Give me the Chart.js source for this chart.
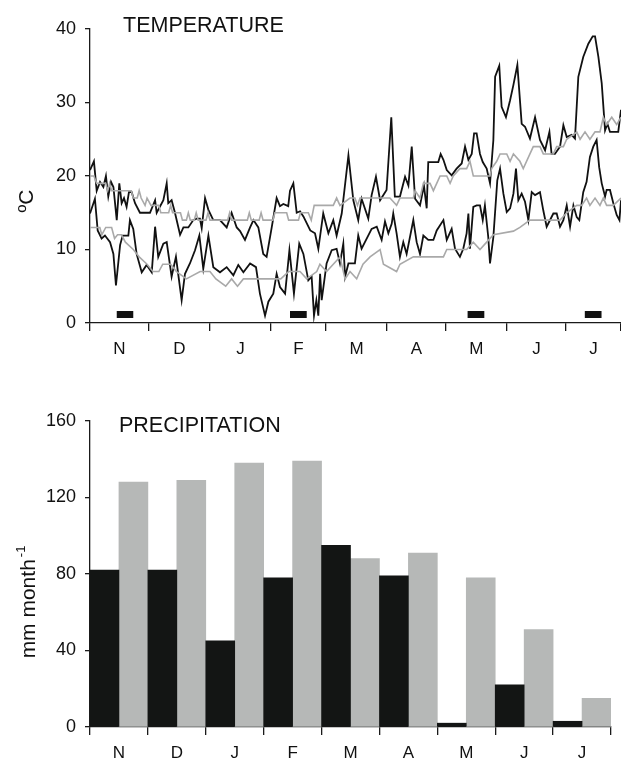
<!DOCTYPE html>
<html>
<head>
<meta charset="utf-8">
<script src="https://cdn.jsdelivr.net/npm/chart.js@4.4.1/dist/chart.umd.min.js"></script>
<style>
html,body{margin:0;padding:0;background:#fff;}
#top{position:absolute;left:0;top:0;width:621px;height:371px;}
#bot{position:absolute;left:0;top:380px;width:621px;height:383px;}
</style>
</head>
<body>
<div id="top"><canvas id="c1"></canvas></div>
<div id="bot"><canvas id="c2"></canvas></div>
<script>
// ---------- DATA ----------
const monthLabels = ['N','D','J','F','M','A','M','J','J'];
const monthStartDays = [0,30,61,92,120,151,181,212,242,270];   // day index from 1 Nov
const monthMidDays = [15,45.5,76.5,106,135.5,166,196.5,227,256];

// daily maximum temperature of the study year [day, °C]
const tmaxObs = [[0,20.8],[2,22],[3.4,18],[5.1,19.2],[6.8,18.5],[8.1,20],[9.3,17.2],[10.7,19.2],[11.9,18.5],[13.6,14],[14.9,19],[16.1,16.3],[17.3,17],[18.6,15.8],[19.8,17.8],[21.2,17.8],[22.9,16.3],[25.4,15],[30.5,15],[33.1,16.7],[33.9,15],[37.3,16.7],[39,19],[39.8,16.3],[41.5,16.7],[43.2,15],[45.8,12],[47.5,13],[50,13],[52.5,14],[54.2,14.2],[55.9,14.2],[56.8,12.9],[58.5,17],[60.2,15.4],[62.7,14],[66.1,14],[69.5,13],[72,15],[74.6,13],[76.3,12.5],[78.8,11.3],[81.4,13],[83.1,14],[85.6,13],[88.1,9.4],[89.8,9],[92.4,13],[94.9,17],[96.6,15.9],[98.3,16.2],[100.8,15.9],[101.7,18],[103.4,19],[105.1,15],[106.8,15.2],[108.5,14.5],[112,12.6],[114.4,12.2],[116.1,10.1],[118.6,14.9],[121.2,12.2],[123.7,14],[125.4,11.9],[128,14.9],[131.4,22.8],[133.9,16.7],[136.4,14],[138.1,16.9],[141.5,14.2],[143.2,17.4],[145.4,19.9],[147.5,16.7],[150.8,18.1],[153.2,28],[155,17.2],[157.6,17.2],[160.2,19.9],[161.9,18.7],[163.6,24],[165.3,16.9],[167.8,16],[169.8,18.7],[171.2,15.6],[172,21.9],[177.1,21.9],[178.3,23],[179.7,22.2],[181.4,20.8],[183.9,20.1],[186.4,21],[189,21.7],[190.7,24],[192.4,22.2],[194.1,23],[195.3,25.8],[196.6,25.8],[198.3,23],[199.7,21.9],[201.7,21],[203.4,19],[205.1,24.9],[206,33.5],[208.1,35],[209.3,29.4],[211.5,28],[213.6,30.3],[215.3,32.4],[217.3,35.1],[219.5,27.1],[221.2,26.7],[223.7,25.1],[226.3,28],[228.8,24.9],[231.4,23.5],[233.6,26],[234.7,23],[236.4,23],[239,24],[240.7,26.9],[242.4,25.3],[244.9,25.6],[246.6,25.1],[248.3,33.5],[250.8,36.2],[253.4,38],[255.6,39],[256.8,39],[258.5,36.2],[260.2,32.6],[261.9,26.2],[263.1,27.1],[264.4,26],[268.6,26],[270,29]];

// daily minimum temperature of the study year [day, °C]
const tminObs = [[0,14.9],[2.5,16.9],[3.9,12.6],[5.9,11.5],[7.6,11.9],[10.2,11],[11.9,9.4],[13.2,5.1],[15.3,10.6],[16.6,11.9],[19.5,11.9],[20.3,14],[22,12.8],[23.7,9.4],[26.3,6.9],[28.8,7.9],[31.4,6.9],[33.1,13.1],[34.7,9],[37.3,10.8],[39,11],[41.5,6.3],[43.7,9],[46.6,3.1],[48.3,6.7],[50.8,8.1],[53.4,9.9],[55.6,11.9],[57.6,7.4],[60.2,11.9],[62.7,7.6],[66.1,6.9],[69.5,7.6],[72.9,6.5],[75.4,7.9],[78,6.9],[81.4,8.1],[84.4,7.6],[86.4,4],[89,1],[90.7,2.9],[93.2,4],[94.9,6.7],[96.6,4.9],[99.2,4],[101.4,9.9],[103.7,4],[106.4,10.8],[108.5,9.4],[111,5.8],[112.7,6.3],[113.9,1],[115.1,3.1],[116.1,1],[117,6.7],[117.8,3.1],[120.3,8.1],[122.9,9.9],[125.4,10.1],[127.1,8.1],[128.8,10.8],[129.7,6.3],[131.4,8.1],[134.7,8.1],[136.4,11.9],[138.1,10.1],[143.2,12.8],[145.8,13.1],[148.3,11.3],[150,13.8],[151.7,12.2],[153.4,13.5],[154.2,14.9],[155.9,12.2],[157.6,9],[159.3,11],[161,9.4],[164.4,14],[166.1,11],[167.8,9.4],[169.5,11.9],[172,11.3],[174.6,11.3],[176.3,12.6],[179.7,14],[181.4,11.3],[183.9,12.8],[185.6,10.1],[188.1,9],[189.8,10.1],[191.5,12.2],[192.4,14.9],[193.2,10.1],[194.9,15.8],[196.6,16],[198.3,16],[199.7,14],[200.8,16],[202.5,11.7],[203.4,8.1],[205.1,11.7],[207.1,19.4],[208.5,21],[210.2,17.6],[211.9,15.1],[213.6,15.6],[215.3,17.6],[216.6,21],[217.8,16.7],[219.5,17.6],[221.2,16.5],[222.9,14],[224.6,17.8],[226.3,17.4],[228.8,17.8],[230.5,15.3],[232.2,13.1],[235.6,14.9],[237.3,14.9],[239,13.1],[240.7,14],[242.4,16],[244.1,13.1],[245.8,16],[247.5,14.4],[248.8,14],[250.8,17.8],[252.5,19.2],[254.2,22.6],[255.9,24],[257.6,24.9],[258.9,21.2],[260.2,19],[261.9,17.2],[262.7,18.1],[264.4,18.1],[266.1,16.3],[267.8,14.7],[269.2,14],[270,16.7]];

// long-term mean maximum [day, °C]
const tmaxNorm = [[0,20],[2,20],[3.4,19],[8,19],[9,18],[10,19],[11,18],[21,18],[22,17],[24,17],[25,18],[26,17],[28,16],[29,17],[31,16],[35,16],[36,15],[40,15],[41,16],[42,15],[46,15],[47,14],[49,14],[50,15],[51,14],[53,14],[54,15],[55,14],[59,14],[60,15],[61,14],[70,14],[71,15],[72,14],[80,14],[81,15],[82,14],[86,14],[87,15],[88,14],[93,14],[94,15],[100,15],[101,14],[106,14],[107,15],[111,15],[112.5,14],[114,16],[123.7,16],[125.4,17],[127.1,16],[132.2,17],[134.7,17],[136,16],[137.3,17],[152.5,17],[155.9,16],[157.6,17],[164.4,17],[165.3,18],[167.8,17],[169.5,19],[172.9,19],[174.6,18],[176.3,19],[178,20],[181.4,20],[183.1,19],[184.7,20],[188.1,21],[191.5,21],[193.2,22],[194.9,20],[203.4,20],[204.2,21],[206.8,22],[208.5,23],[211.9,23],[213.6,22],[215.3,23],[218.6,22],[220.3,21],[223.7,23],[225.4,24],[228.8,24],[230.5,23],[235.6,23],[237.3,24],[240.7,24],[242.4,25],[247.5,26],[249.2,25],[251.7,26],[254.2,25],[256.8,26],[259.3,26],[261,28],[262.7,27],[265.3,28],[267.8,27],[270,28]];

// long-term mean minimum [day, °C]
const tminNorm = [[0,13],[5,13],[6,12],[8,13],[11,13],[12.5,11.5],[14,12],[16,12],[18,11],[22,10],[25,9],[29,8],[32,7],[35,7],[37,8],[41,8],[44,7],[49,6],[56,7],[61,7],[64,6],[69,5],[72,6],[75,5],[78,6],[97,6],[101,7],[106.8,7],[110.2,6],[115.3,7],[116.9,8],[120.3,7],[123.7,8],[127.1,9],[129.7,6],[132.2,7],[135.6,6],[138.8,8],[142.4,9],[147.5,10],[149.2,8],[155.9,7],[157.6,8],[164.4,9],[179.7,9],[181.4,10],[191.5,10],[194.9,11],[198.3,10],[201.7,11],[205.1,12],[215.3,12.5],[218.6,13],[223.7,14],[239,14],[242.4,15],[247.5,16],[250,16],[252.5,17],[254.2,16],[256.8,17],[259.3,16],[261,17],[262.7,16],[266.1,16],[270,17]];

// sampling periods (start day, end day)
const sampleStart = [13.6, 101.7, 192, 251.6];
const sampleEnd = [22, 110.2, 200.5, 260.1];
const sampleLevel = 1.15;

// precipitation (mm month-1)
const precipYear = [82, 82, 45, 78, 95, 79, 2, 22, 3];
const precipNorm = [128, 129, 138, 139, 88, 91, 78, 51, 15];

// ---------- CHART ----------
const AX = '#1a1a1a';
const FONT = "'Liberation Sans', Arial, Helvetica, sans-serif";
const toXY = arr => arr.map(p => ({x: p[0], y: p[1]}));
const samplePts = [];
sampleStart.forEach((s, i) => {
  samplePts.push({x: s, y: sampleLevel}, {x: sampleEnd[i], y: sampleLevel}, {x: sampleEnd[i] + 0.5, y: null});
});

const textPlugin = {
  id: 'texts',
  afterDraw(chart, args, opts) {
    const ctx = chart.ctx;
    ctx.save();
    ctx.fillStyle = '#111';
    ctx.textBaseline = 'alphabetic';
    ctx.textAlign = 'left';
    ctx.font = '21.5px ' + FONT;
    ctx.fillText(opts.title, opts.tx, opts.ty);
    // rotated y label
    ctx.translate(opts.yx, opts.yy);
    ctx.rotate(-Math.PI / 2);
    ctx.font = '21px ' + FONT;
    ctx.textAlign = 'left';
    const w = ctx.measureText(opts.ylabel).width;
    const supW = opts.ysup ? 0 : 0;
    let startX = -w / 2;
    if (opts.ysup) {
      ctx.font = '13px ' + FONT;
      const sw = ctx.measureText(opts.ysup).width;
      startX = -(w + sw + 2) / 2;
      ctx.font = '21px ' + FONT;
      ctx.fillText(opts.ylabel, startX, 0);
      ctx.font = '13px ' + FONT;
      ctx.fillText(opts.ysup, startX + w + 2, -10);
    } else {
      ctx.fillText(opts.ylabel, startX, 0);
    }
    ctx.restore();
  }
};

const fixW = w => s => { s.width = w; };
const fixH = h => s => { s.height = h; };

new Chart(document.getElementById('c1'), {
  type: 'line',
  data: {
    datasets: [
      {data: toXY(tmaxNorm), borderColor: '#a9a9a9', borderWidth: 1.6, pointRadius: 0, tension: 0},
      {data: toXY(tminNorm), borderColor: '#a9a9a9', borderWidth: 1.6, pointRadius: 0, tension: 0},
      {data: toXY(tmaxObs), borderColor: '#111', borderWidth: 1.8, pointRadius: 0, tension: 0},
      {data: toXY(tminObs), borderColor: '#111', borderWidth: 1.8, pointRadius: 0, tension: 0},
      {data: samplePts, borderColor: '#111', borderWidth: 7, borderCapStyle: 'butt', pointRadius: 0, spanGaps: false}
    ]
  },
  options: {
    responsive: true, maintainAspectRatio: false, animation: false,
    layout: {padding: {top: 29, left: 0, right: 0, bottom: 0}},
    plugins: {legend: {display: false}, tooltip: {enabled: false},
      texts: {title: 'TEMPERATURE', tx: 123, ty: 32, ylabel: 'ºC', yx: 33, yy: 201}},
    scales: {
      x: {
        type: 'linear', min: 0, max: 270, position: 'bottom', weight: 0,
        afterBuildTicks: s => { s.ticks = monthStartDays.map(v => ({value: v})); },
        afterFit: fixH(8),
        ticks: {display: false},
        grid: {drawOnChartArea: false, drawTicks: true, tickLength: 8, color: AX, lineWidth: 1.3},
        border: {color: AX, width: 1.3}
      },
      x2: {
        type: 'linear', min: 0, max: 270, position: 'bottom', weight: 1,
        afterBuildTicks: s => { s.ticks = monthMidDays.map(v => ({value: v})); },
        afterFit: fixH(40),
        ticks: {callback: (v, i) => monthLabels[i], color: '#111', font: {size: 17, family: FONT}, padding: 8, maxRotation: 0, autoSkip: false},
        grid: {display: false, drawTicks: false},
        border: {display: false}
      },
      y: {
        min: 0, max: 40,
        afterFit: fixW(90),
        ticks: {stepSize: 10, color: '#111', font: {size: 18, family: FONT}, padding: 9},
        grid: {drawOnChartArea: false, tickLength: 5, color: AX, lineWidth: 1.3},
        border: {color: AX, width: 1.3}
      }
    }
  },
  plugins: [textPlugin]
});

new Chart(document.getElementById('c2'), {
  type: 'bar',
  data: {
    labels: monthLabels,
    datasets: [
      {data: precipYear, backgroundColor: '#131514', barPercentage: 1, categoryPercentage: 1},
      {data: precipNorm, backgroundColor: '#b6b8b7', barPercentage: 1, categoryPercentage: 1}
    ]
  },
  options: {
    responsive: true, maintainAspectRatio: false, animation: false,
    layout: {padding: {top: 41, left: 0, right: 10, bottom: 0}},
    plugins: {legend: {display: false}, tooltip: {enabled: false},
      texts: {title: 'PRECIPITATION', tx: 119, ty: 52, ylabel: 'mm month', ysup: '-1', yx: 35, yy: 222}},
    scales: {
      x: {
        afterFit: fixH(36),
        ticks: {color: '#111', font: {size: 17, family: FONT}, padding: 8, maxRotation: 0},
        grid: {offset: true, drawOnChartArea: false, tickLength: 8, color: AX, lineWidth: 1.3},
        border: {color: AX, width: 1.3}
      },
      y: {
        min: 0, max: 160,
        afterFit: fixW(90),
        ticks: {stepSize: 40, color: '#111', font: {size: 18, family: FONT}, padding: 9},
        grid: {drawOnChartArea: false, tickLength: 5, color: AX, lineWidth: 1.3},
        border: {color: AX, width: 1.3}
      }
    }
  },
  plugins: [textPlugin]
});
</script>
</body>
</html>
